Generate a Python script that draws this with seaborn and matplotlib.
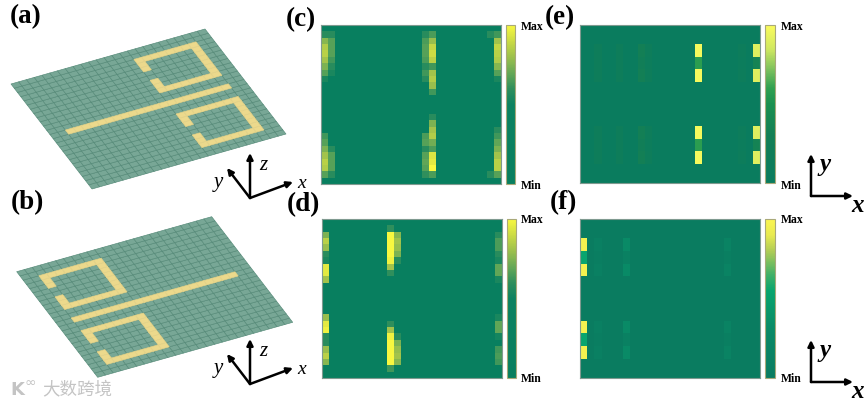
import numpy as np
import seaborn as sns
import matplotlib

matplotlib.use('Agg')
import matplotlib.pyplot as plt
from matplotlib.collections import PolyCollection
from matplotlib.colors import LinearSegmentedColormap

N = 25
W, H = 865, 405

# heatmap columns, top row first, all other columns are at the minimum
c_col0 = [0, .58, .76, .84, .86, .81, .74, .67, .54, 0, 0, 0, 0, 0, 0, 0, 0, .63, .67, .74, .81, .86, .84, .67, 0]
c_col1 = [0, .58, .67, .67, .67, .63, .58, .54, 0, 0, 0, 0, 0, 0, 0, 0, 0, 0, 0, .58, .67, .67, .67, .58, 0]
c_col14 = [0, .58, .65, .67, .67, .65, .58, .63, .58, 0, 0, 0, 0, 0, 0, 0, 0, .65, .67, .58, .67, .69, .67, .6, 0]
c_col15 = [0, .65, .79, .88, .9, .86, .63, .81, .84, .79, .63, 0, 0, 0, .58, .74, .81, .84, .72, .65, .93, .95, 1, .65, 0]
c_col23 = [0, .58, 0, 0, 0, 0, 0, 0, 0, 0, 0, 0, 0, 0, 0, 0, 0, 0, 0, 0, 0, 0, 0, .58, 0]
c_col24 = [0, .63, .81, .88, .86, .84, .76, .67, .54, 0, 0, 0, 0, 0, 0, 0, .58, .63, .69, .74, .81, .86, .86, .67, 0]

d_col0 = [0, 0, .74, .86, .79, .58, .54, .95, .95, .81, 0, 0, 0, 0, 0, .79, .95, .98, .58, .58, .79, .86, .76, 0, 0]
d_col9 = [0, .6, 1, 1, 1, 1, .98, .81, .6, 0, 0, 0, 0, 0, 0, 0, .6, .81, .98, 1, 1, 1, 1, .63, 0]
d_col10 = [0, 0, .76, .81, .79, .74, .58, 0, 0, 0, 0, 0, 0, 0, 0, 0, 0, 0, .58, .74, .79, .81, .76, 0, 0]
d_col24 = [0, 0, .58, .65, .65, .58, .54, .69, .69, .54, 0, 0, 0, 0, 0, .54, .69, .69, .52, 0, .63, .65, .63, 0, 0]

e_col2 = [0, 0, 0, .15, .15, .12, .12, .15, .15, 0, 0, 0, 0, 0, 0, 0, .15, .15, .12, .12, .15, .15, 0, 0, 0]
e_col5 = [0, 0, 0, .15, .15, .12, .12, .15, .15, 0, 0, 0, 0, 0, 0, 0, .15, .15, .12, .12, .15, .15, 0, 0, 0]
e_col8 = [0, 0, 0, .3, .3, .22, .22, .3, .3, 0, 0, 0, 0, 0, 0, 0, .3, .3, .22, .22, .3, .3, 0, 0, 0]
e_col9 = [0, 0, 0, .12, .12, .1, .1, .12, .12, 0, 0, 0, 0, 0, 0, 0, .12, .12, .1, .1, .12, .12, 0, 0, 0]
e_col22 = [0, 0, 0, .1, .1, .08, .08, .1, .1, 0, 0, 0, 0, 0, 0, 0, .1, .1, .08, .08, .1, .1, 0, 0, 0]
e_col16 = [0, 0, 0, .98, .98, .58, .58, .98, .98, 0, 0, 0, 0, 0, 0, 0, .98, .98, .58, .58, .98, .98, 0, 0, 0]
e_col24 = [0, 0, 0, .9, .9, .35, .35, .9, .9, 0, 0, 0, 0, 0, 0, 0, .9, .9, .35, .35, .9, .9, 0, 0, 0]

f_col0 = [0, 0, 0, .96, .96, .55, .55, .96, .96, 0, 0, 0, 0, 0, 0, 0, .96, .96, .55, .55, .96, .96, 0, 0, 0]
f_col2 = [0, 0, 0, .08, .08, .04, .04, .08, .08, 0, 0, 0, 0, 0, 0, 0, .08, .08, .04, .04, .08, .08, 0, 0, 0]
f_col6 = [0, 0, 0, .3, .3, .12, .12, .3, .3, 0, 0, 0, 0, 0, 0, 0, .3, .3, .12, .12, .3, .3, 0, 0, 0]
f_col20 = [0, 0, 0, .15, .15, .06, .06, .15, .15, 0, 0, 0, 0, 0, 0, 0, .15, .15, .06, .06, .15, .15, 0, 0, 0]

cmap_cd = LinearSegmentedColormap.from_list('cd', [(0, '#087f5f'), (.5, '#0c8260'), (.6, '#2f8f5c'), (.7, '#66a856'),
                                                   (.8, '#9cc04c'), (.9, '#cbdb44'), (1, '#f8f840')])
cmap_e = LinearSegmentedColormap.from_list('e', [(0, '#0a7c5e'), (.3, '#137f55'), (.5, '#1a9050'), (.6, '#2fa050'),
                                                 (.7, '#70bb5c'), (.85, '#d0e860'), (1, '#fbfb5c')])
cmap_f = LinearSegmentedColormap.from_list('f', [(0, '#0a7c60'), (.3, '#098a66'), (.55, '#08a56e'), (.65, '#40b068'),
                                                 (.8, '#b0cc55'), (.9, '#e8ea50'), (1, '#fbf550')])


def grid(columns):
    z = np.zeros((N, N))
    for col, values in columns.items():
        z[:, col] = values
    return z


def ax_px(x0, y0, x1, y1):
    return fig.add_axes([x0 / W, 1 - y1 / H, (x1 - x0) / W, (y1 - y0) / H])


def heat(columns, box, cbar_box, cmap):
    ax = ax_px(*box)
    cax = ax_px(*cbar_box)
    sns.heatmap(grid(columns), ax=ax, cbar_ax=cax, cmap=cmap, vmin=0, vmax=1,
                xticklabels=False, yticklabels=False)
    ax.set_xticks(np.arange(0, N + 1, 5))
    ax.set_yticks(np.arange(0, N + 1, 5))
    ax.tick_params(direction='in', length=1.5, width=.5, color='#55706a',
                   labelbottom=False, labelleft=False)
    for s in ax.spines.values():
        s.set_visible(True)
        s.set_color('#7f9a90')
        s.set_linewidth(.8)
    cax.set_yticks([])
    cbar = ax.collections[0].colorbar
    cbar.outline.set_edgecolor('#a9a97a')
    cbar.outline.set_linewidth(.8)


def ring(pattern, u0, v0):
    # split ring, eight cells wide, open on the low-u side
    pattern[v0, u0:u0 + 8] = 1
    pattern[v0 + 7, u0:u0 + 8] = 1
    pattern[v0:v0 + 8, u0 + 7] = 1
    pattern[v0:v0 + 3, u0] = 1
    pattern[v0 + 5:v0 + 8, u0] = 1


def plate(pattern, origin, ex, ey):
    uu, vv = np.meshgrid(np.linspace(0, 1, N + 1), np.linspace(0, 1, N + 1))
    xx = origin[0] + uu * ex[0] + vv * ey[0]
    yy = origin[1] + uu * ex[1] + vv * ey[1]
    # substrate with its mesh lines, then the metal cells on top
    sub = top.pcolormesh(xx, yy, np.zeros_like(pattern), cmap=LinearSegmentedColormap.from_list('s', ['#78a796', '#78a796']),
                         edgecolors='#558a78', linewidth=.45, antialiased=True)
    sub.set_snap(False)
    cells = []
    for v, u in zip(*np.nonzero(pattern)):
        cells.append([(xx[v, u], yy[v, u]), (xx[v, u + 1], yy[v, u + 1]),
                      (xx[v + 1, u + 1], yy[v + 1, u + 1]), (xx[v + 1, u], yy[v + 1, u])])
    top.add_collection(PolyCollection(cells, facecolors='#ecd98c', edgecolors='#e6d48a', linewidths=.5))


def arrow(start, end):
    top.annotate('', xy=end, xytext=start,
                 arrowprops=dict(arrowstyle='-|>', color='black', lw=1.8, mutation_scale=9,
                                 shrinkA=0, shrinkB=0))


def serif(x, y, s, size, **kw):
    top.text(x, y, s, fontsize=size, family='Liberation Serif', ha='center', va='center', color='black', **kw)


sns.set_theme(style='white')
fig = plt.figure(figsize=(W / 100, H / 100), dpi=100, facecolor='white')

heat({0: c_col0, 1: c_col1, 14: c_col14, 15: c_col15, 23: c_col23, 24: c_col24},
     (321, 25, 501, 184), (506, 25, 515, 184), cmap_cd)
heat({0: d_col0, 9: d_col9, 10: d_col10, 24: d_col24},
     (322, 219, 502, 378), (507, 219, 516, 378), cmap_cd)
heat({2: e_col2, 5: e_col5, 8: e_col8, 9: e_col9, 16: e_col16, 22: e_col22, 24: e_col24},
     (580, 25, 760, 183), (765, 25, 775, 183), cmap_e)
heat({0: f_col0, 2: f_col2, 6: f_col6, 20: f_col20},
     (580, 219, 760, 378), (765, 219, 775, 378), cmap_f)

top = fig.add_axes([0, 0, 1, 1])
top.set_xlim(0, W)
top.set_ylim(H, 0)
top.axis('off')
top.patch.set_alpha(0)

# feed line and two split rings, on the right in (a) and on the left in (b)
pattern_a = np.zeros((N, N))
pattern_a[12, 2:23] = 1
ring(pattern_a, 15, 15)
ring(pattern_a, 15, 2)
plate(pattern_a, (92, 189), (194, -55), (-81, -105))

pattern_b = np.zeros((N, N))
pattern_b[12, 2:23] = 1
ring(pattern_b, 2, 15)
ring(pattern_b, 2, 2)
plate(pattern_b, (97.7, 377.3), (195, -55), (-81, -105.6))

for o, dy in [((250, 198), 0), ((250, 384), 186)]:
    arrow(o, (250, 153 + dy))
    arrow(o, (227, 168 + dy))
    arrow(o, (293, 182 + dy))
    serif(263, 165 + dy, 'z', 15, style='italic')
    serif(218, 183 + dy, 'y', 15, style='italic')
    serif(302, 183 + dy, 'x', 14, style='italic')

for dy in [0, 186]:
    arrow((811, 196 + dy), (811, 154 + dy))
    arrow((811, 196 + dy), (853, 196 + dy))
    serif(825, 165 + dy, 'y', 18, style='italic', weight='bold')
    serif(858, 206 + dy, 'x', 18, style='italic', weight='bold')

for x, y, s in [(26, 17, '(a)'), (27, 203, '(b)'), (301, 20, '(c)'), (303, 205, '(d)'),
                (560, 18, '(e)'), (563, 203, '(f)')]:
    serif(x, y, s, 19.5, weight='bold')

for x, y_max, y_min in [(521, 27, 186), (521, 220, 379), (781, 27, 186), (781, 220, 379)]:
    top.text(x, y_max, 'Max', fontsize=8.4, family='Liberation Serif', weight='bold', va='center', color='black')
    top.text(x, y_min, 'Min', fontsize=8.4, family='Liberation Serif', weight='bold', va='center', color='black')

# watermark
top.text(10, 390, 'K', fontsize=13, color='#c4c4c4', va='center', family='DejaVu Sans', weight='bold')
top.text(25, 383, '∞', fontsize=10, color='#c4c4c4', va='center', family='DejaVu Sans')
top.text(42, 390, '大数跨境', fontsize=12.6, color='#c4c4c4', va='center', family='Noto Sans CJK SC')

fig.savefig('out.png', dpi=100)
